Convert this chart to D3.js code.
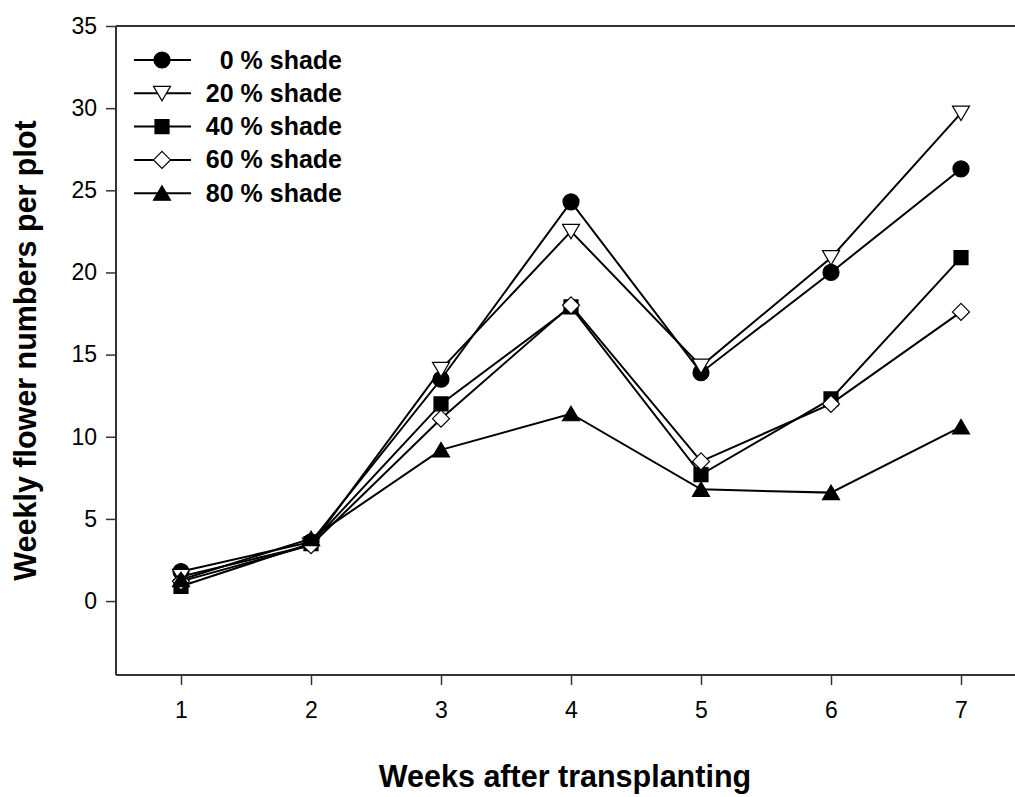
<!DOCTYPE html>
<html>
<head>
<meta charset="utf-8">
<script src="https://cdn.jsdelivr.net/npm/d3@7"></script>
<style>
  html, body { margin: 0; padding: 0; background: #fff; }
  svg { display: block; font-family: "Liberation Sans", Arial, sans-serif; }
</style>
</head>
<body>
<svg id="chart" width="1015" height="797"></svg>
<script>
// Weekly flower counts per plot under five shade levels
const weeks = [1, 2, 3, 4, 5, 6, 7];
const seriesNames = ["0 % shade", "20 % shade", "40 % shade", "60 % shade", "80 % shade"];
const shade0  = [1.8, 3.6, 13.5, 24.3, 13.9, 20.0, 26.3];
const shade20 = [1.5, 3.4, 14.1, 22.5, 14.3, 20.9, 29.7];
const shade40 = [0.9, 3.5, 12.0, 17.9, 7.7, 12.3, 20.9];
const shade60 = [1.2, 3.4, 11.1, 18.0, 8.5, 12.0, 17.6];
const shade80 = [1.3, 3.8, 9.2, 11.4, 6.8, 6.6, 10.6];
const yTicks = [0, 5, 10, 15, 20, 25, 30, 35];
const xTicks = [1, 2, 3, 4, 5, 6, 7];

const seriesValues = [shade0, shade20, shade40, shade60, shade80];
const symbolKinds = ["circle", "triangleDown", "square", "diamond", "triangleUp"];
const symbolFills = ["#000", "#fff", "#000", "#fff", "#000"];

const svg = d3.select("#chart");
const plotLeft = 116, plotRight = 1026, plotTop = 26, plotBottom = 675;

const x = d3.scaleLinear().domain([0.5, 7.5]).range([plotLeft, plotRight]);
const y = d3.scaleLinear().domain([-4.5, 35]).range([plotBottom, plotTop]);

// marker shapes centred on (0,0)
function symbolPath(kind) {
  switch (kind) {
    case "circle": {
      const p = d3.path(); p.arc(0, 0, 8, 0, 2 * Math.PI); p.closePath(); return p.toString();
    }
    case "square":
      return "M-7,-7L7,-7L7,7L-7,7Z";
    case "diamond":
      return "M0,-8.5L8.5,0L0,8.5L-8.5,0Z";
    case "triangleUp":
      return "M0,-7.5L8.5,7L-8.5,7Z";
    case "triangleDown":
      return "M-8.5,-7L8.5,-7L0,7.5Z";
  }
}

// axes
const axisColor = "#333";
const gx = svg.append("g").attr("transform", `translate(0,${plotBottom})`)
  .call(d3.axisBottom(x).tickValues(xTicks).tickSizeOuter(0).tickSizeInner(10).tickPadding(17).tickFormat(d3.format("d")));
const gy = svg.append("g").attr("transform", `translate(${plotLeft},0)`)
  .call(d3.axisLeft(y).tickValues(yTicks).tickSizeOuter(0).tickSizeInner(10).tickPadding(9).tickFormat(d3.format("d")));

[gx, gy].forEach(g => {
  g.select(".domain").attr("stroke", axisColor).attr("stroke-width", 2);
  g.selectAll(".tick line").attr("stroke", axisColor).attr("stroke-width", 1.5);
  g.selectAll(".tick text").attr("fill", "#000").style("font-size", "23px")
    .style("font-family", "'Liberation Sans', Arial, sans-serif");
});
gy.select(".domain").attr("d", `M0,${plotBottom}V${plotTop}`);
gx.select(".domain").attr("d", `M${plotLeft},0H${plotRight}`);

// top frame line
svg.append("line")
  .attr("x1", plotLeft).attr("x2", plotRight).attr("y1", plotTop).attr("y2", plotTop)
  .attr("stroke", axisColor).attr("stroke-width", 2);

// axis titles
svg.append("text")
  .attr("x", (plotLeft + plotRight) / 2 - 6).attr("y", 787)
  .attr("text-anchor", "middle")
  .style("font-size", "30.5px").style("font-weight", "bold")
  .text("Weeks after transplanting");

svg.append("text")
  .attr("transform", `translate(36,${(plotTop + plotBottom) / 2}) rotate(-90)`)
  .attr("text-anchor", "middle")
  .style("font-size", "30.5px").style("font-weight", "bold")
  .text("Weekly flower numbers per plot");

// series lines and markers
const line = d3.line().x((d, i) => x(weeks[i])).y(d => y(d));
seriesValues.forEach((vals, s) => {
  const g = svg.append("g");
  g.append("path").datum(vals)
    .attr("d", line)
    .attr("fill", "none").attr("stroke", "#000").attr("stroke-width", 2);
  g.selectAll("path.mark").data(vals).join("path")
    .attr("class", "mark")
    .attr("transform", (d, i) => `translate(${x(weeks[i])},${y(d)})`)
    .attr("d", symbolPath(symbolKinds[s]))
    .attr("fill", symbolFills[s]).attr("stroke", "#000").attr("stroke-width", 1.2);
});

// legend
const legend = svg.append("g");
seriesNames.forEach((name, s) => {
  const ly = 60 + s * 33.3;
  legend.append("line").attr("x1", 134).attr("x2", 191).attr("y1", ly).attr("y2", ly)
    .attr("stroke", "#000").attr("stroke-width", 2);
  legend.append("path").attr("transform", `translate(162,${ly})`)
    .attr("d", symbolPath(symbolKinds[s]))
    .attr("fill", symbolFills[s]).attr("stroke", "#000").attr("stroke-width", 1.2);
  legend.append("text").attr("x", 342).attr("y", ly + 8.5)
    .attr("text-anchor", "end")
    .style("font-size", "25px").style("font-weight", "bold")
    .text(name);
});
</script>
</body>
</html>
